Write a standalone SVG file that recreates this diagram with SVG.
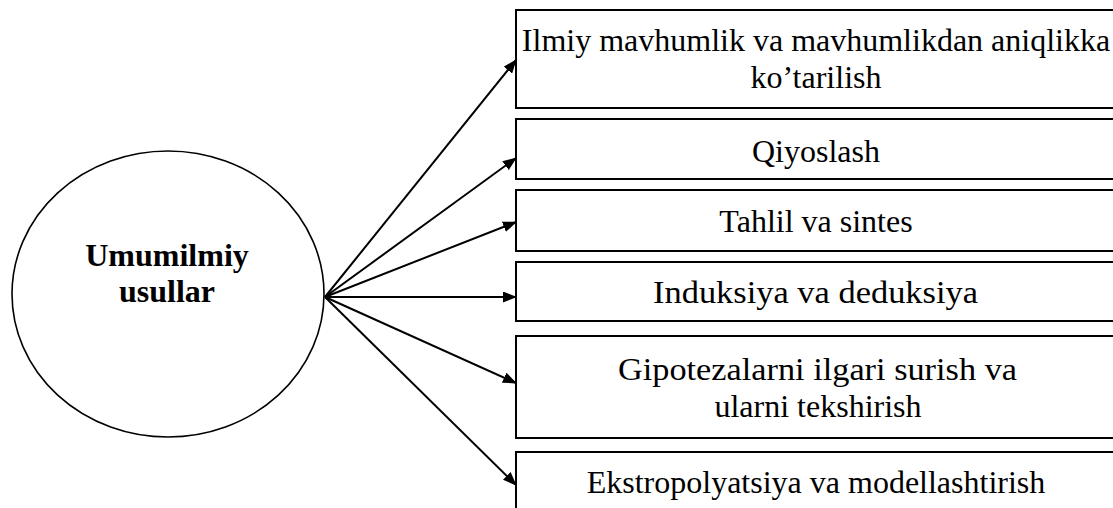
<svg xmlns="http://www.w3.org/2000/svg" width="1113" height="508" viewBox="0 0 1113 508">
<style>
.box{fill:#fff;stroke:#000;stroke-width:2}
.t{font-family:"Liberation Serif","Times New Roman",serif;font-size:32px;fill:#000;text-anchor:middle}
.b{font-family:"Liberation Serif","Times New Roman",serif;font-size:32px;font-weight:bold;fill:#000;text-anchor:middle}
.c{stroke:#000;stroke-width:2;fill:none;marker-end:url(#ah)}
</style>
<defs>
<marker id="ah" viewBox="0 0 14 11" refX="13" refY="5.5" markerWidth="14" markerHeight="11" markerUnits="userSpaceOnUse" orient="auto">
<path d="M0,0 L14,5.5 L0,11 z" fill="#000"/>
</marker>
</defs>
<rect width="1113" height="508" fill="#fff"/>
<g id="center">
<ellipse cx="168" cy="294" rx="156" ry="143" fill="#fff" stroke="#000" stroke-width="1.6"/>
<text class="b" x="167" y="266">Umumilmiy</text>
<text class="b" x="167" y="302">usullar</text>
</g>
<g id="n1"><rect class="box" x="516" y="10" width="610" height="98"/>
<text class="t" x="816" y="51">Ilmiy mavhumlik va mavhumlikdan aniqlikka</text>
<text class="t" x="816" y="88">ko’tarilish</text></g>
<g id="n2"><rect class="box" x="516" y="119" width="610" height="60"/>
<text class="t" x="816" y="162">Qiyoslash</text></g>
<g id="n3"><rect class="box" x="516" y="190" width="610" height="61"/>
<text class="t" x="816" y="232">Tahlil va sintes</text></g>
<g id="n4"><rect class="box" x="516" y="262" width="610" height="59"/>
<text class="t" x="815.5" y="303" textLength="325" lengthAdjust="spacingAndGlyphs">Induksiya va deduksiya</text></g>
<g id="n5"><rect class="box" x="516" y="336" width="610" height="102"/>
<text class="t" x="817.5" y="380" textLength="399" lengthAdjust="spacingAndGlyphs">Gipotezalarni ilgari surish va</text>
<text class="t" x="818" y="417">ularni tekshirish</text></g>
<g id="n6"><rect class="box" x="516" y="452" width="610" height="80"/>
<text class="t" x="816" y="493">Ekstropolyatsiya va modellashtirish</text></g>
<g id="connectors">
<line class="c" x1="325" y1="297" x2="516" y2="60"/>
<line class="c" x1="325" y1="297" x2="516" y2="158"/>
<line class="c" x1="325" y1="297" x2="516" y2="222"/>
<line class="c" x1="325" y1="297" x2="516" y2="297"/>
<line class="c" x1="325" y1="297" x2="516" y2="383"/>
<line class="c" x1="325" y1="297" x2="516" y2="485"/>
</g>
</svg>
